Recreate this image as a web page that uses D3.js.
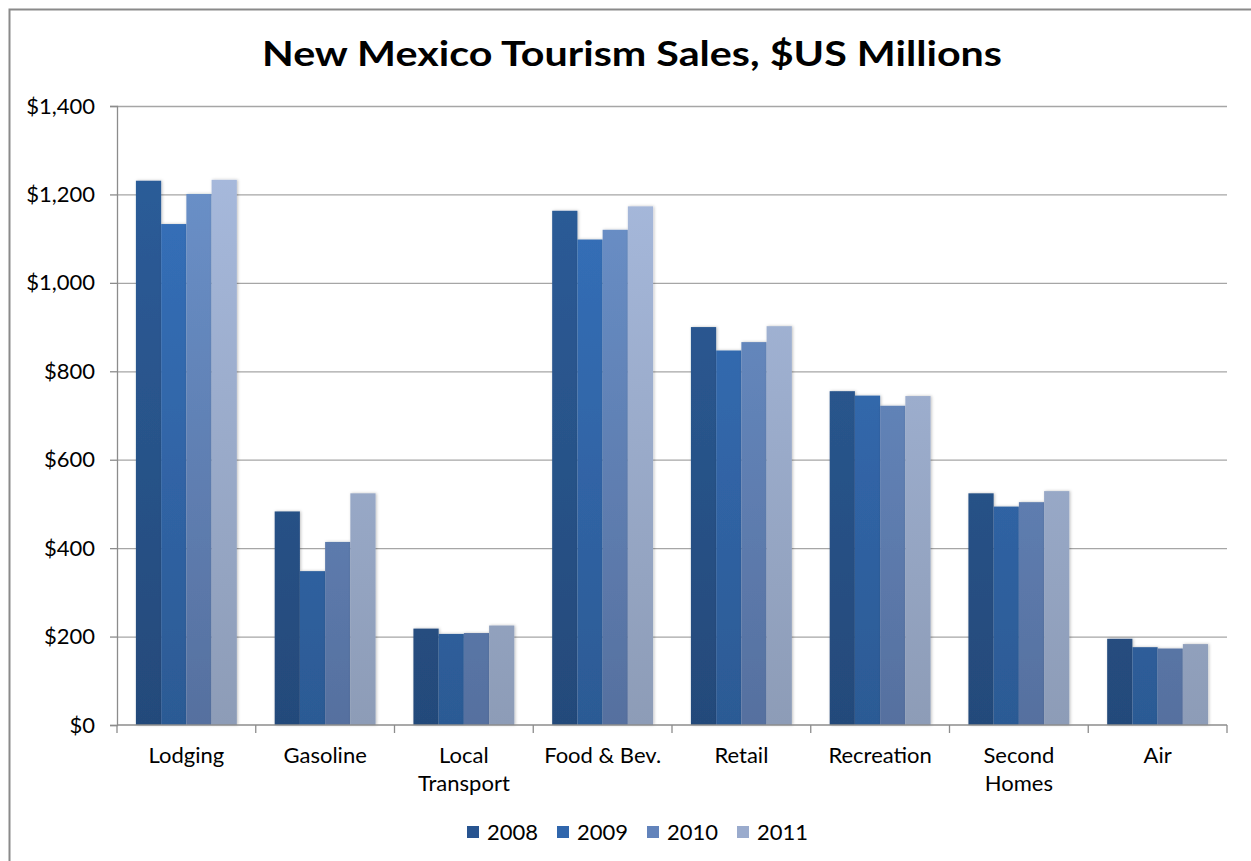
<!DOCTYPE html>
<html>
<head>
<meta charset="utf-8">
<script src="https://cdn.jsdelivr.net/npm/d3@7"></script>
<style>
  html, body { margin: 0; padding: 0; background: #fff; }
  svg { display: block; font-family: Lato, "Open Sans", "Liberation Sans", sans-serif; }
</style>
</head>
<body>
<svg id="chart" width="1251" height="861"></svg>
<script>
// Tourism sales by category, $US millions
const categories = ["Lodging", "Gasoline", "Local Transport", "Food & Bev.", "Retail", "Recreation", "Second Homes", "Air"];
const categoryLines = [["Lodging"], ["Gasoline"], ["Local", "Transport"], ["Food & Bev."], ["Retail"], ["Recreation"], ["Second", "Homes"], ["Air"]];
const years = ["2008", "2009", "2010", "2011"];
const sales2008 = [1231, 483, 218, 1163, 900, 755, 524, 195];
const sales2009 = [1133, 348, 206, 1098, 847, 745, 494, 176];
const sales2010 = [1201, 414, 208, 1120, 866, 722, 504, 173];
const sales2011 = [1233, 524, 225, 1173, 902, 744, 529, 183];
const yTicks = [0, 200, 400, 600, 800, 1000, 1200, 1400];

const seriesValues = [sales2008, sales2009, sales2010, sales2011];
// top / bottom colours of each series gradient
const gradTop = ["#2d5e9c", "#3673bf", "#6c94cd", "#a9bce0"];
const gradBottom = ["#244a7a", "#2c5a94", "#56709f", "#8d9cb7"];
const legendColor = ["#285490", "#3066ac", "#6283bb", "#9aabcd"];

const svg = d3.select("#chart");
const margin = { left: 117, right: 1227, top: 106, bottom: 725 };
const labelSize = 22;

// outer chart frame
svg.append("rect")
  .attr("x", 9.5).attr("y", 9.5)
  .attr("width", 1251).attr("height", 861)
  .attr("fill", "#fff").attr("stroke", "#8a8a8a").attr("stroke-width", 2);

const defs = svg.append("defs");
years.forEach((y, i) => {
  const g = defs.append("linearGradient")
    .attr("id", "grad" + i).attr("x1", 0).attr("x2", 0)
    .attr("gradientUnits", "userSpaceOnUse")
    .attr("y1", margin.top).attr("y2", margin.bottom);
  g.append("stop").attr("offset", "0%").attr("stop-color", gradTop[i]);
  g.append("stop").attr("offset", "100%").attr("stop-color", gradBottom[i]);
});
const shadow = defs.append("filter").attr("id", "shadow")
  .attr("x", "-20%").attr("y", "-5%").attr("width", "140%").attr("height", "110%");
shadow.append("feDropShadow").attr("dx", 1).attr("dy", 0).attr("stdDeviation", 1.5)
  .attr("flood-color", "#000").attr("flood-opacity", 0.25);

const x = d3.scaleBand().domain(categories).range([margin.left, margin.right]).paddingInner(0).paddingOuter(0);
const y = d3.scaleLinear().domain([0, 1400]).range([margin.bottom, margin.top]);

// gridlines
svg.append("g").selectAll("line").data(yTicks.filter(d => d > 0)).join("line")
  .attr("x1", margin.left).attr("x2", margin.right)
  .attr("y1", d => y(d) + 0.5).attr("y2", d => y(d) + 0.5)
  .attr("stroke", "#a6a6a6").attr("stroke-width", 1.3);

// bars: each band holds 4 bars plus a gap of 1.5 bar widths
const barW = x.bandwidth() / 5.5;
const gBars = svg.append("g");
categories.forEach((c, ci) => {
  seriesValues.forEach((vals, si) => {
    const x0 = x(c) + barW * 0.75 + si * barW;
    gBars.append("rect")
      .attr("x", x0).attr("y", y(vals[ci]))
      .attr("width", barW).attr("height", y(0) - y(vals[ci]))
      .attr("fill", "url(#grad" + si + ")")
      .attr("filter", "url(#shadow)");
  });
});

// y axis
const yAxis = d3.axisLeft(y).tickValues(yTicks).tickSize(7).tickPadding(15)
  .tickFormat(d => "$" + d3.format(",")(d));
const gy = svg.append("g").attr("transform", `translate(${margin.left},0)`).call(yAxis);
gy.select(".domain").attr("stroke", "#8c8c8c").attr("stroke-width", 1.3);
gy.selectAll(".tick line").attr("stroke", "#8c8c8c").attr("stroke-width", 1.3);
gy.selectAll(".tick text").attr("font-size", labelSize).attr("fill", "#000")
  .attr("font-family", "Lato, sans-serif");

// x axis with ticks at band boundaries
const boundaries = categories.map(c => x(c)).concat([margin.right]);
const gx = svg.append("g");
gx.append("line").attr("x1", margin.left).attr("x2", margin.right)
  .attr("y1", margin.bottom).attr("y2", margin.bottom)
  .attr("stroke", "#8c8c8c").attr("stroke-width", 1.3);
gx.selectAll("line.tk").data(boundaries).join("line").attr("class", "tk")
  .attr("x1", d => d).attr("x2", d => d)
  .attr("y1", margin.bottom).attr("y2", margin.bottom + 8)
  .attr("stroke", "#8c8c8c").attr("stroke-width", 1.3);
categories.forEach((c, ci) => {
  const t = gx.append("text").attr("text-anchor", "middle")
    .attr("font-size", labelSize).attr("fill", "#000");
  categoryLines[ci].forEach((ln, li) => {
    t.append("tspan").attr("x", x(c) + x.bandwidth() / 2)
      .attr("y", 763 + li * 27.5).text(ln);
  });
});

// title
svg.append("text").attr("x", 632).attr("y", 66).attr("text-anchor", "middle")
  .attr("font-size", 35).attr("font-weight", "bold").attr("fill", "#000")
  .attr("textLength", 740).attr("lengthAdjust", "spacingAndGlyphs")
  .text("New Mexico Tourism Sales, $US Millions");

// legend
const legend = svg.append("g");
years.forEach((yr, i) => {
  const lx = 467 + i * 90;
  legend.append("rect").attr("x", lx).attr("y", 826).attr("width", 12).attr("height", 12)
    .attr("fill", legendColor[i]);
  legend.append("text").attr("x", lx + 20).attr("y", 839.5)
    .attr("font-size", labelSize).attr("fill", "#000").text(yr);
});
</script>
</body>
</html>
